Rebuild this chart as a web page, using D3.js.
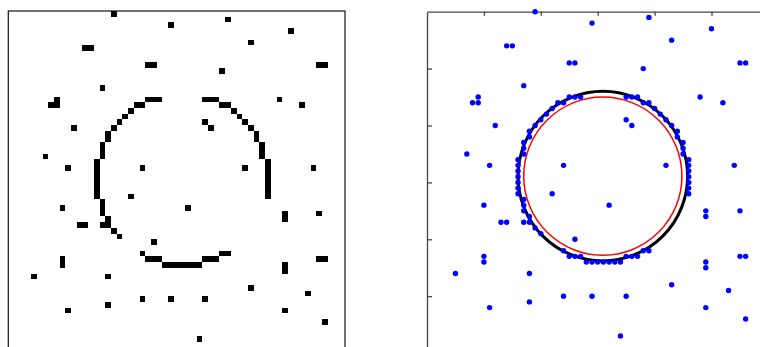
<!DOCTYPE html>
<html>
<head>
<meta charset="utf-8">
<script src="https://cdn.jsdelivr.net/npm/d3@7"></script>
<style>
  html, body { margin: 0; padding: 0; background: #fff; }
  svg { display: block; }
</style>
</head>
<body>
<div id="chart"></div>
<script>
// edge pixels that lie on the ring (x = column, y = row, image coordinates)
var ringPoints = [
    [25,15],[26,15],[27,15],[35,15],[36,15],[37,15],
    [23,16],[24,16],[38,16],[39,16],
    [22,17],[40,17],[21,18],[41,18],[20,19],[42,19],[19,20],[43,20],
    [18,21],[18,22],[44,21],[44,22],
    [17,23],[17,24],[17,25],[45,23],[45,24],[45,25],
    [16,26],[16,27],[16,28],[16,29],[16,30],[16,31],[16,32],
    [46,26],[46,27],[46,28],[46,29],[46,30],[46,31],[46,32],
    [17,33],[17,34],[17,35],[18,36],[18,37],[17,37],
    [19,38],[20,39],[24,42],[25,43],[26,43],[27,43],
    [28,44],[29,44],[30,44],[31,44],[32,44],[33,44],[34,44],
    [35,43],[36,43],[37,43],[38,42],[39,42]
];

// scattered noise pixels
var noisePoints = [
    [19,0],[29,2],[39,1],[50,3],[43,5],[14,6],[15,6],[25,9],[26,9],[38,10],
    [55,9],[56,9],[17,13],[8,16],[9,15],[9,16],[48,15],[52,16],[12,20],
    [35,19],[36,20],[7,25],[11,27],[24,27],[42,27],[54,27],[22,32],[32,34],
    [10,34],[49,35],[49,36],[55,35],[13,37],[14,37],[26,40],[10,43],[10,44],
    [5,46],[18,46],[49,44],[49,45],[55,43],[56,43],[43,48],[53,49],[24,50],
    [29,50],[35,50],[18,51],[11,52],[49,52],[56,54],[34,57]
];

var xTicks = [10, 20, 30, 40, 50];
var yTicks = [10, 20, 30, 40, 50];

// detected circle (black) and the smaller reference circle (red): cx, cy, r
var fitCircle = [30.9, 28.9, 14.9];
var refCircle = [30.9, 28.9, 13.9];

var W = 760, H = 347;
var allPoints = ringPoints.concat(noisePoints);

var svg = d3.select('#chart').append('svg')
    .attr('width', W)
    .attr('height', H);

// ---- left panel: binary image ----
var xL = d3.scaleLinear().domain([0.5, 59.5]).range([8.3, 345]);
var yL = d3.scaleLinear().domain([-0.5, 58.5]).range([11, 347.7]);

var left = svg.append('g').attr('class', 'image-panel');

left.selectAll('rect.px')
    .data(allPoints)
    .enter().append('rect')
    .attr('class', 'px')
    .attr('x', function(d) { return xL(d[0] - 0.5); })
    .attr('y', function(d) { return yL(d[1] - 0.5); })
    .attr('width', function(d) { return xL(d[0] + 0.5) - xL(d[0] - 0.5); })
    .attr('height', function(d) { return yL(d[1] + 0.5) - yL(d[1] - 0.5); })
    .attr('fill', '#000')
    .attr('shape-rendering', 'crispEdges');

left.append('rect')
    .attr('x', xL(0.5))
    .attr('y', yL(-0.5))
    .attr('width', xL(59.5) - xL(0.5))
    .attr('height', yL(58.5) - yL(-0.5))
    .attr('fill', 'none')
    .attr('stroke', '#111')
    .attr('stroke-width', 1.2);

// ---- right panel: scatter + circles ----
var xR = d3.scaleLinear().domain([0, 60]).range([427, 427 + 60 * 5.69]);
var yR = d3.scaleLinear().domain([0, 60]).range([11.7, 11.7 + 60 * 5.69]);

var right = svg.append('g').attr('class', 'scatter-panel');

var topAxis = right.append('g')
    .attr('transform', 'translate(0,' + yR(0) + ')')
    .call(d3.axisTop(xR).tickValues(xTicks).tickSizeInner(-4).tickSizeOuter(0).tickFormat(''));
var leftAxis = right.append('g')
    .attr('transform', 'translate(' + xR(0) + ',0)')
    .call(d3.axisLeft(yR).tickValues(yTicks).tickSizeInner(-5).tickSizeOuter(0).tickFormat(''));
[topAxis, leftAxis].forEach(function(a) {
    a.selectAll('path, line').attr('stroke', '#444').attr('stroke-width', 1.3);
});

right.append('circle')
    .attr('cx', xR(fitCircle[0]))
    .attr('cy', yR(fitCircle[1]))
    .attr('r', xR(fitCircle[2]) - xR(0))
    .attr('fill', 'none')
    .attr('stroke', '#000')
    .attr('stroke-width', 3);

right.append('circle')
    .attr('cx', xR(refCircle[0]))
    .attr('cy', yR(refCircle[1]))
    .attr('r', xR(refCircle[2]) - xR(0))
    .attr('fill', 'none')
    .attr('stroke', '#f00')
    .attr('stroke-width', 1.5);

right.selectAll('circle.dot')
    .data(allPoints)
    .enter().append('circle')
    .attr('class', 'dot')
    .attr('cx', function(d) { return xR(d[0]); })
    .attr('cy', function(d) { return yR(d[1]); })
    .attr('r', 2.7)
    .attr('fill', '#0000ff');
</script>
</body>
</html>
